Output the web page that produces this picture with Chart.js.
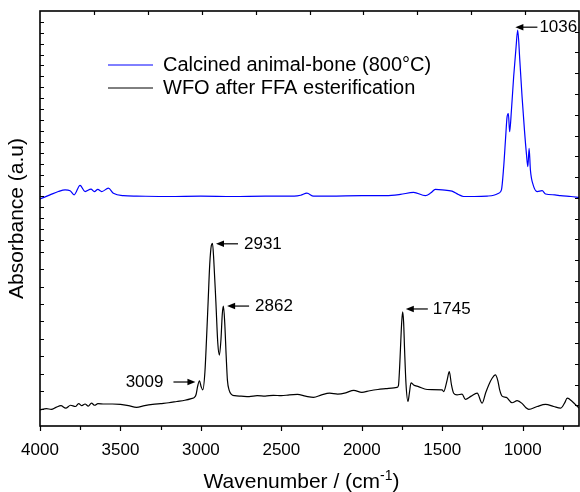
<!DOCTYPE html>
<html>
<head>
<meta charset="utf-8">
<script src="https://cdn.jsdelivr.net/npm/chart.js@4/dist/chart.umd.min.js"></script>
<style>
  body { margin: 0; background: #fff; }
  canvas { display: block; }
</style>
</head>
<body>
<canvas id="ftir" width="580" height="492"></canvas>
<script>
// Calcined animal-bone (800°C) - wavenumber / absorbance (a.u, offset)
const boneWn = [4000, 3938, 3886, 3844, 3813, 3788, 3751, 3720, 3683, 3662, 3641, 3616, 3575, 3544, 3482, 3400, 3200, 3000, 2800, 2600, 2420, 2380, 2341, 2300, 2200, 2000, 1850, 1760, 1678, 1605, 1570, 1543, 1500, 1439, 1400, 1367, 1300, 1221, 1180, 1149, 1132, 1118, 1107, 1097, 1089, 1081, 1070, 1056, 1041, 1031, 1018, 1004, 989, 977, 968, 960, 952, 935, 910, 879, 858, 800, 765, 700, 650];
const boneAbs = [54.7, 55.7, 56.5, 56.9, 56.7, 55.7, 58.0, 56.5, 57.1, 56.5, 57.0, 56.5, 57.3, 56.1, 55.5, 55.4, 55.3, 55.4, 55.3, 55.4, 55.4, 55.6, 56.1, 55.4, 55.4, 55.5, 55.5, 55.8, 56.3, 55.5, 56.2, 57.0, 56.9, 56.6, 55.8, 55.3, 55.3, 55.4, 55.6, 56.1, 56.9, 62.5, 68.9, 74.5, 75.3, 70.9, 76.1, 84.2, 91.4, 95.4, 88.2, 79.4, 71.3, 65.7, 62.5, 66.9, 61.7, 58.1, 56.5, 56.7, 55.9, 55.7, 55.5, 55.3, 55.1];

// WFO after FFA esterification
const wfoWn = [4000, 3960, 3930, 3900, 3870, 3840, 3810, 3780, 3760, 3740, 3720, 3700, 3680, 3660, 3640, 3600, 3550, 3500, 3450, 3400, 3350, 3300, 3250, 3200, 3150, 3100, 3060, 3040, 3030, 3020, 3009, 2998, 2988, 2975, 2965, 2955, 2945, 2935, 2928, 2920, 2907, 2895, 2885, 2875, 2867, 2860, 2852, 2843, 2835, 2824, 2810, 2790, 2750, 2700, 2650, 2600, 2550, 2500, 2450, 2400, 2350, 2300, 2250, 2200, 2150, 2100, 2050, 2000, 1950, 1900, 1850, 1800, 1781, 1772, 1765, 1760, 1752, 1746, 1740, 1734, 1725, 1713, 1704, 1694, 1678, 1648, 1594, 1501, 1491, 1470, 1456, 1443, 1429, 1408, 1377, 1356, 1320, 1283, 1252, 1230, 1211, 1190, 1170, 1155, 1143, 1128, 1101, 1066, 1034, 1003, 980, 962, 910, 858, 807, 765, 740, 723, 692, 650];
const wfoAbs = [3.9, 4.2, 4.0, 4.5, 4.9, 4.3, 5.0, 4.7, 5.4, 4.9, 5.3, 4.8, 5.5, 5.0, 5.4, 5.3, 5.3, 5.2, 4.9, 4.5, 4.9, 5.2, 5.4, 5.6, 5.9, 6.2, 6.6, 6.9, 7.6, 9.6, 10.9, 9.4, 8.7, 13, 21, 30, 39, 43.5, 44, 40, 30, 20, 17.1, 21, 27, 28.9, 25, 17, 11, 8.6, 7.6, 7.3, 7.2, 7.1, 7.3, 7.2, 7.4, 7.3, 7.5, 7.6, 7.2, 6.9, 7.5, 7.9, 7.7, 8.0, 8.6, 8.1, 8.5, 8.8, 9.0, 9.2, 9.3, 9.8, 14, 18.3, 25, 27.5, 25, 18.3, 10, 5.9, 8, 10.4, 9.9, 9.5, 8.8, 8.7, 8.3, 11, 13.1, 10, 7.9, 7.5, 7.7, 6.4, 7.2, 7.9, 5.5, 8, 9.9, 11.5, 12.3, 11, 8.7, 7.2, 6.9, 5.6, 6.1, 5.4, 4.4, 4.0, 4.7, 5.2, 4.7, 4.3, 5.5, 6.7, 5.9, 4.3];

const seriesNames = ['Calcined animal-bone (800°C)', 'WFO after FFA esterification'];
const seriesColors = ['#0000ff', '#000000'];

// x axis ticks
const xMajorTicks = [4000, 3500, 3000, 2500, 2000, 1500, 1000];
const xMinorTicks = [3750, 3250, 2750, 2250, 1750, 1250, 750];

// peak labels (the label is the wavenumber), arrow height and side of the text
const peakLabels = ['1036', '2931', '2862', '1745', '3009'];
const peakArrowAbs = [96.1, 43.9, 28.9, 28.2, 10.6];
const peakTextSide = ['right', 'right', 'right', 'right', 'left'];
// arrow drawing tweaks (px): gap tip-to-peak, gap tail-to-text
const peakTipGap = [-1.5, 4, 4, 3, 4];
const peakTextGap = [2, 6, 6, 5, 10];

function toPoints(xs, ys) {
  return xs.map((x, i) => ({ x: x, y: ys[i] }));
}

const FONT = '"Liberation Sans", Arial, Helvetica, sans-serif';

// frame, inward ticks on left/top/right, outward ticks on bottom
const framePlugin = {
  id: 'frame',
  afterDraw(chart) {
    const { ctx, chartArea: a, scales: { x, y } } = chart;
    ctx.save();
    ctx.strokeStyle = '#000';
    ctx.lineWidth = 1.2;
    ctx.beginPath();
    // bottom ticks (outward)
    xMajorTicks.forEach(v => { const px = Math.round(x.getPixelForValue(v)) + 0.5; ctx.moveTo(px, a.bottom); ctx.lineTo(px, a.bottom + 5); });
    xMinorTicks.forEach(v => { const px = Math.round(x.getPixelForValue(v)) + 0.5; ctx.moveTo(px, a.bottom); ctx.lineTo(px, a.bottom + 4); });
    // top ticks (inward)
    for (let k = 1; k <= 9; k++) {
      const px = Math.round(x.getPixelForValue(4000 - 335 * k)) + 0.5;
      ctx.moveTo(px, a.top); ctx.lineTo(px, a.top + 4);
    }
    // right ticks (inward)
    for (let v = 5; v < 100; v += 5) {
      const py = Math.round(y.getPixelForValue(v)) + 0.5;
      ctx.moveTo(a.right, py); ctx.lineTo(a.right - 4, py);
    }
    // left ticks (inward), two stacked panels
    for (let k = 1; k <= 10; k++) {
      const py = Math.round(y.getPixelForValue(4.2 * k)) + 0.5;
      ctx.moveTo(a.left, py); ctx.lineTo(a.left + 4, py);
    }
    for (let k = 0; k <= 20; k++) {
      const py = Math.round(y.getPixelForValue(44.8 + 2.63 * k)) + 0.5;
      ctx.moveTo(a.left, py); ctx.lineTo(a.left + 4, py);
    }
    ctx.stroke();
    ctx.lineWidth = 1.6;
    ctx.strokeRect(a.left, a.top, a.right - a.left, a.bottom - a.top);
    ctx.restore();
  }
};

// legend lines + text inside the plot
const legendPlugin = {
  id: 'insideLegend',
  afterDraw(chart) {
    const { ctx, chartArea: a } = chart;
    ctx.save();
    ctx.font = '20px ' + FONT;
    ctx.textBaseline = 'middle';
    ctx.textAlign = 'left';
    seriesNames.forEach((name, i) => {
      const yy = a.top + 54 + i * 23;
      ctx.strokeStyle = seriesColors[i];
      ctx.lineWidth = 1;
      ctx.beginPath();
      ctx.moveTo(a.left + 68, yy);
      ctx.lineTo(a.left + 113, yy);
      ctx.stroke();
      ctx.fillStyle = '#000';
      ctx.fillText(name, a.left + 123, yy);
    });
    ctx.restore();
  }
};

// x axis title with a real superscript
const xTitlePlugin = {
  id: 'xTitle',
  afterDraw(chart) {
    const { ctx, chartArea: a } = chart;
    const main = '21px ' + FONT, sup = '14px ' + FONT;
    const p1 = 'Wavenumber / (cm', p2 = '-1', p3 = ')';
    ctx.save();
    ctx.fillStyle = '#000';
    ctx.textBaseline = 'alphabetic';
    ctx.textAlign = 'left';
    ctx.font = main; const w1 = ctx.measureText(p1).width, w3 = ctx.measureText(p3).width;
    ctx.font = sup; const w2 = ctx.measureText(p2).width;
    let xx = (a.left + a.right) / 2 - 8 - (w1 + w2 + w3) / 2;
    const base = a.bottom + 62;
    ctx.font = main; ctx.fillText(p1, xx, base); xx += w1;
    ctx.font = sup; ctx.fillText(p2, xx, base - 8); xx += w2;
    ctx.font = main; ctx.fillText(p3, xx, base);
    ctx.restore();
  }
};

// peak arrows
const peakPlugin = {
  id: 'peaks',
  afterDraw(chart) {
    const { ctx, scales: { x, y } } = chart;
    ctx.save();
    ctx.font = '17px ' + FONT;
    ctx.textBaseline = 'middle';
    ctx.fillStyle = '#000';
    ctx.strokeStyle = '#000';
    ctx.lineWidth = 1.2;
    peakLabels.forEach((lab, i) => {
      const px = x.getPixelForValue(parseFloat(lab));
      const py = y.getPixelForValue(peakArrowAbs[i]);
      const dir = peakTextSide[i] === 'right' ? 1 : -1;
      const tip = px + dir * peakTipGap[i];
      const tail = tip + dir * 22;
      ctx.beginPath();
      ctx.moveTo(tip + dir * 6, py);
      ctx.lineTo(tail, py);
      ctx.stroke();
      ctx.beginPath();
      ctx.moveTo(tip, py);
      ctx.lineTo(tip + dir * 8, py - 3.2);
      ctx.lineTo(tip + dir * 8, py + 3.2);
      ctx.closePath();
      ctx.fill();
      ctx.textAlign = dir > 0 ? 'left' : 'right';
      ctx.fillText(lab, tail + dir * peakTextGap[i], py);
    });
    ctx.restore();
  }
};

new Chart(document.getElementById('ftir'), {
  type: 'line',
  data: {
    datasets: [
      { label: seriesNames[0], data: toPoints(boneWn, boneAbs), borderColor: seriesColors[0], borderWidth: 1.2, pointRadius: 0, cubicInterpolationMode: 'monotone', fill: false },
      { label: seriesNames[1], data: toPoints(wfoWn, wfoAbs), borderColor: seriesColors[1], borderWidth: 1.2, pointRadius: 0, cubicInterpolationMode: 'monotone', fill: false }
    ]
  },
  options: {
    responsive: false,
    animation: false,
    devicePixelRatio: 1,
    layout: { padding: { top: 11, right: 1, left: 0, bottom: 0 } },
    plugins: { legend: { display: false }, tooltip: { enabled: false } },
    scales: {
      x: {
        type: 'linear',
        reverse: true,
        min: 650,
        max: 4000,
        afterBuildTicks: s => { s.ticks = xMajorTicks.map(v => ({ value: v })); },
        afterFit: s => { s.height = 66; },
        grid: { display: false },
        border: { display: false },
        ticks: { color: '#000', font: { family: FONT, size: 17 }, padding: 6, maxRotation: 0, callback: v => String(v) },
        title: { display: false }
      },
      y: {
        min: 0,
        max: 100,
        afterFit: s => { s.width = 40; },
        grid: { display: false },
        border: { display: false },
        ticks: { display: false },
        title: { display: true, text: 'Absorbance (a.u)', color: '#000', font: { family: FONT, size: 21 }, padding: { top: 5, bottom: 0 } }
      }
    }
  },
  plugins: [framePlugin, legendPlugin, xTitlePlugin, peakPlugin]
});
</script>
</body>
</html>
